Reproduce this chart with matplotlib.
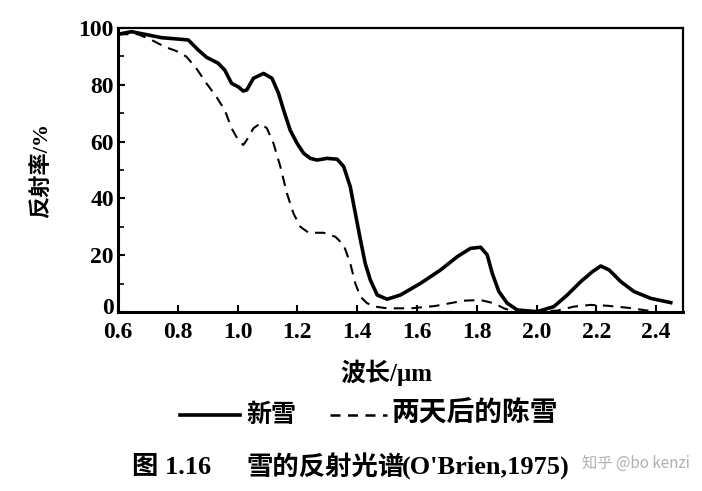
import matplotlib
matplotlib.use("Agg")
import matplotlib.pyplot as plt
from matplotlib.ticker import MultipleLocator
from matplotlib.transforms import ScaledTranslation

# Data
fresh_x = [0.6, 0.645, 0.689, 0.745, 0.801, 0.835, 0.868, 0.896, 0.935, 0.957, 0.98, 1.002,
           1.019, 1.031, 1.053, 1.087, 1.115, 1.137, 1.154, 1.176, 1.199, 1.221, 1.243,
           1.266, 1.299, 1.333, 1.355, 1.377, 1.394, 1.411, 1.427, 1.444, 1.467, 1.5,
           1.545, 1.612, 1.679, 1.735, 1.779, 1.813, 1.835, 1.852, 1.874, 1.902, 1.936,
           2.003, 2.014, 2.058, 2.103, 2.148, 2.187, 2.215, 2.243, 2.282, 2.326, 2.382, 2.449]
fresh_y = [97.8, 98.7, 97.8, 96.6, 96.1, 95.8, 92.3, 89.7, 87.6, 85.2, 80.5, 79.3,
           77.8, 78.2, 82.3, 84.0, 82.3, 77.0, 71.1, 64.0, 59.4, 55.9, 54.1,
           53.5, 54.1, 53.8, 51.2, 44.1, 34.7, 25.4, 17.1, 11.3, 6.0, 4.5,
           6.0, 10.1, 14.8, 19.5, 22.4, 22.8, 20.1, 13.6, 7.2, 3.1, 0.7,
           0.1, 0.5, 1.9, 6.0, 10.7, 14.2, 16.2, 14.8, 10.7, 7.2, 4.8, 3.3]
aged_x = [0.6, 0.667, 0.712, 0.756, 0.795, 0.829, 0.862, 0.896, 0.929, 0.957, 0.98, 1.002,
          1.019, 1.031, 1.053, 1.076, 1.098, 1.12, 1.143, 1.165, 1.187, 1.21, 1.238,
          1.288, 1.327, 1.355, 1.377, 1.394, 1.411, 1.433, 1.46, 1.5, 1.58, 1.66, 1.757,
          1.813, 1.857, 1.891, 1.925, 2.0, 2.07, 2.125, 2.181, 2.237, 2.304, 2.371, 2.39]
aged_y = [97.8, 97.8, 95.8, 93.4, 91.9, 89.9, 85.8, 80.5, 75.8, 71.1, 64.7, 60.6,
          58.8, 60.6, 64.7, 66.4, 64.7, 59.4, 51.2, 41.8, 34.7, 30.0, 27.9,
          27.9, 26.5, 23.6, 17.1, 10.0, 5.4, 3.1, 1.9, 1.3, 1.3, 2.1, 4.0,
          4.2, 3.1, 1.3, 0.1, 0.1, 0.5, 1.9, 2.5, 2.2, 1.5, 0.5, 0.2]
x_ticks = [0.6, 0.8, 1.0, 1.2, 1.4, 1.6, 1.8, 2.0, 2.2, 2.4]
y_ticks = [0, 20, 40, 60, 80, 100]
labels = ["新雪", "两天后的陈雪"]

fam = ["Liberation Serif", "Noto Sans CJK SC", "DejaVu Sans"]
plt.rcParams["font.family"] = fam

fig = plt.figure(figsize=(7.02, 4.91), dpi=100)
ax = fig.add_axes([118/702, 1 - 312/491, (683-118)/702, (312-28)/491])

ax.plot(fresh_x, fresh_y, color="black", lw=2.6, solid_joinstyle="round", label=labels[0])
ax.plot(aged_x, aged_y, color="black", lw=1.5, dashes=(5, 3.5), label=labels[1])

ax.set_xlim(0.6, 2.49)
ax.set_ylim(0, 100)
ax.set_xticks(x_ticks)
ax.set_xticklabels([f"{v:.1f}" for v in x_ticks])
ax.set_yticks(y_ticks)
ax.yaxis.set_minor_locator(MultipleLocator(10))
ax.tick_params(axis="both", which="major", direction="in", length=5, width=1.5,
               labelsize=17)
ax.tick_params(axis="x", which="major", pad=7)
ax.tick_params(axis="y", which="major", pad=3)
ax.tick_params(axis="y", which="minor", direction="in", length=4, width=1.2)
for lab in ax.get_xticklabels() + ax.get_yticklabels():
    lab.set_fontweight("bold")
# lift the "0" label slightly so it clears the x tick labels
zero_lab = ax.get_yticklabels()[0]
zero_lab.set_transform(zero_lab.get_transform() + ScaledTranslation(0, 4/72, fig.dpi_scale_trans))
for s in ax.spines.values():
    s.set_linewidth(1.6)
ax.spines["left"].set_linewidth(2.2)
ax.spines["bottom"].set_linewidth(2.2)

fig.text(42/702, 1 - 170/491, "反射率/%", rotation=90, ha="center", va="center",
         fontsize=16, fontweight="bold")
fig.text(386/702, 1 - 373/491, "波长/μm", ha="center", va="center",
         fontsize=18, fontweight="bold")

# legend line samples
fig.add_artist(plt.Line2D([180/702, 240/702], [1 - 415/491] * 2, color="black", lw=2.6,
                          transform=fig.transFigure))
fig.text(246/702, 1 - 415/491, labels[0], ha="left", va="center", fontsize=18, fontweight="bold")
fig.add_artist(plt.Line2D([330/702, 387/702], [1 - 415/491] * 2, color="black", lw=1.8,
                          dashes=(4, 3), transform=fig.transFigure))
fig.text(391/702, 1 - 415/491, labels[1], ha="left", va="center", fontsize=20, fontweight="bold")

cy = 1 - 467/491
fig.text(132/702, cy, "图 1.16", ha="left", va="center", fontsize=19, fontweight="bold")
fig.text(246/702, cy, "雪的反射光谱", ha="left", va="center", fontsize=19, fontweight="bold")
fig.text(402/702, cy, "(O'Brien,1975)", ha="left", va="center", fontsize=19, fontweight="bold")
fig.text(690/702, 1 - 463/491, "知乎 @bo kenzi", ha="right", va="center",
         fontsize=11, color="#b0b0b0", family=["Noto Sans CJK SC", "DejaVu Sans"])

fig.savefig("out.png", dpi=100)
